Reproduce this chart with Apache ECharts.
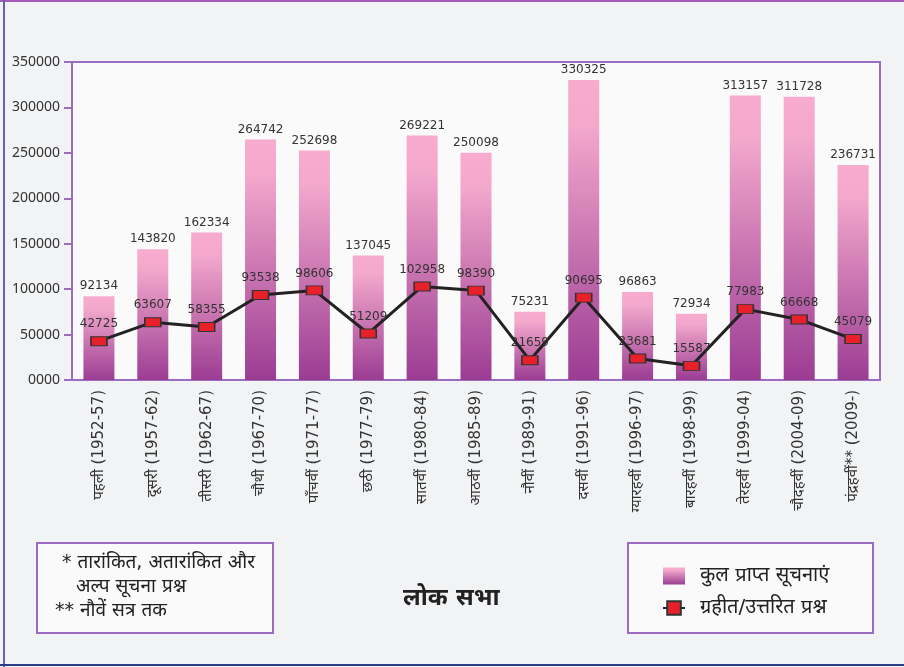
<!DOCTYPE html>
<html>
<head>
<meta charset="utf-8">
<style>
  html, body { margin: 0; padding: 0; background: #f2f3f5; }
  #chart { width: 904px; height: 667px; }
</style>
<script src="https://cdn.jsdelivr.net/npm/echarts@6/dist/echarts.min.js"></script>
</head>
<body>
<div id="chart"></div>
<script>
const categories = [
  "पहली (1952-57)", "दूसरी (1957-62)", "तीसरी (1962-67)", "चौथी (1967-70)",
  "पाँचवीं (1971-77)", "छठी (1977-79)", "सातवीं (1980-84)", "आठवीं (1985-89)",
  "नौवीं (1989-91)", "दसवीं (1991-96)", "ग्यारहवीं (1996-97)", "बारहवीं (1998-99)",
  "तेरहवीं (1999-04)", "चौदहवीं (2004-09)", "पंद्रहवीं** (2009-)"
];
const totalNotices = [92134, 143820, 162334, 264742, 252698, 137045, 269221, 250098,
  75231, 330325, 96863, 72934, 313157, 311728, 236731];
const admittedQuestions = [42725, 63607, 58355, 93538, 98606, 51209, 102958, 98390,
  21659, 90695, 23681, 15587, 77983, 66668, 45079];
const yTicks = { min: 0, max: 350000, step: 50000 };

const purple = "#9b6cc0";
const textColor = "#333";
const font = "'DejaVu Sans', 'Noto Sans', sans-serif";

const chart = echarts.init(document.getElementById("chart"));
chart.setOption({
  backgroundColor: "#f2f3f5",
  animation: false,
  textStyle: { fontFamily: font },
  grid: {
    left: 72, right: 24, top: 62, bottom: 287,
    show: true, backgroundColor: "#fafafa", borderColor: purple, borderWidth: 2
  },
  legend: {
    orient: "vertical",
    left: 657, top: 561,
    itemGap: 12,
    itemWidth: 22, itemHeight: 17,
    textStyle: { fontSize: 20, color: "#222", fontFamily: font, padding: [0, 0, 0, 10] },
    data: [
      { name: "कुल प्राप्त सूचनाएं", icon: "rect" },
      { name: "ग्रहीत/उत्तरित प्रश्न" }
    ]
  },
  xAxis: {
    type: "category",
    data: categories,
    axisLine: { lineStyle: { color: purple, width: 2 } },
    axisTick: { show: false },
    axisLabel: { rotate: 90, interval: 0, fontSize: 15, color: textColor, margin: 10 }
  },
  yAxis: {
    type: "value",
    min: yTicks.min, max: yTicks.max, interval: yTicks.step,
    splitLine: { show: false },
    axisLine: { show: true, lineStyle: { color: purple, width: 2 } },
    axisTick: { show: true, length: 8, lineStyle: { color: purple, width: 2 } },
    axisLabel: {
      fontSize: 14, color: textColor, margin: 12, fontFamily: "'Noto Sans', sans-serif",
      formatter: (v) => (v === 0 ? "0000" : String(v))
    }
  },
  series: [
    {
      name: "कुल प्राप्त सूचनाएं",
      type: "bar",
      data: totalNotices,
      barWidth: 31,
      itemStyle: {
        color: new echarts.graphic.LinearGradient(0, 0, 0, 1, [
          { offset: 0, color: "#f6abcf" },
          { offset: 0.15, color: "#f3a8cc" },
          { offset: 1, color: "#9b3c93" }
        ])
      },
      label: { show: true, position: "top", distance: 4, fontSize: 12, color: textColor }
    },
    {
      name: "ग्रहीत/उत्तरित प्रश्न",
      type: "line",
      data: admittedQuestions,
      symbol: "rect",
      symbolSize: [16, 9],
      lineStyle: { color: "#222", width: 3 },
      itemStyle: { color: "#e8202a", borderColor: "#333", borderWidth: 1.2 },
      label: { show: true, position: "top", distance: 6, fontSize: 12, color: textColor },
      z: 5
    }
  ],
  graphic: [
    // outer frame
    { type: "line", shape: { x1: 0, y1: 1, x2: 904, y2: 1 }, style: { stroke: "#a55cb8", lineWidth: 2 } },
    { type: "line", shape: { x1: 4, y1: 0, x2: 4, y2: 667 }, style: { stroke: "#6a60b8", lineWidth: 2 } },
    { type: "line", shape: { x1: 0, y1: 665, x2: 904, y2: 665 }, style: { stroke: "#2c3a8c", lineWidth: 2 } },
    // note box
    {
      type: "rect", shape: { x: 37, y: 543, width: 236, height: 90 },
      style: { fill: "#fafafa", stroke: purple, lineWidth: 2 }, z: -1
    },
    {
      type: "text", left: 62, top: 554,
      style: { text: "* तारांकित, अतारांकित और", fontSize: 19, fill: "#222", fontFamily: font }
    },
    {
      type: "text", left: 76, top: 578,
      style: { text: "अल्प सूचना प्रश्न", fontSize: 19, fill: "#222", fontFamily: font }
    },
    {
      type: "text", left: 55, top: 602,
      style: { text: "** नौवें सत्र तक", fontSize: 19, fill: "#222", fontFamily: font }
    },
    // title
    {
      type: "text", left: 403, top: 587,
      style: { text: "लोक सभा", fontSize: 24, fontWeight: "bold", fill: "#222", fontFamily: font }
    },
    // legend box
    {
      type: "rect", shape: { x: 628, y: 543, width: 245, height: 90 },
      style: { fill: "#fafafa", stroke: purple, lineWidth: 2 }, z: -1
    }
  ]
});
</script>
</body>
</html>
